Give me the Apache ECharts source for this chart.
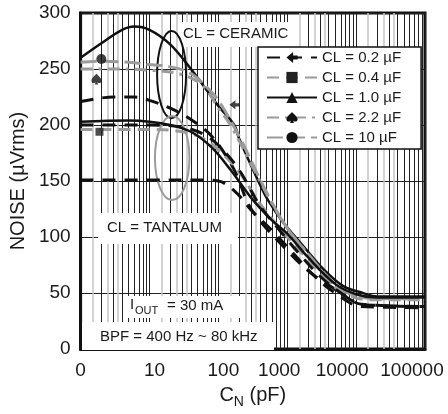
<!DOCTYPE html>
<html><head><meta charset="utf-8">
<script src="https://cdn.jsdelivr.net/npm/echarts@6/dist/echarts.min.js"></script>
<style>html,body{margin:0;padding:0;background:#fff}#c{width:448px;height:414px}</style>
</head><body><div id="c"></div>
<script>
// ---------- data ----------
const xTickLabels = ['0', '10', '100', '1000', '10000', '100000'];
const yMin = 0, yMax = 300, yStep = 50;
const legendNames = ['CL = 0.2 µF', 'CL = 0.4 µF', 'CL = 1.0 µF', 'CL = 2.2 µF', 'CL = 10 µF'];

// ceramic group
const cnCer1u = [1, 2, 4, 6, 10, 20, 40, 70, 100, 170, 200, 380, 525, 900, 1600, 3400, 6600, 12700, 20000, 100000];
const noiseCer1u = [260, 273, 285, 288, 285, 272, 250, 230, 217, 200, 188, 150, 133, 112, 94, 71, 56, 50, 47, 47];
const cnCer10u = [1, 2, 5, 10, 20, 40, 70, 100, 200, 500, 1000, 2000, 5000, 10000, 20000, 100000];
const noiseCer10u = [256, 257, 256, 254, 252, 246, 233, 222, 190, 140, 108, 85, 58, 48, 45, 45];
const cnCer22u = [1, 3, 10, 30, 60, 100, 150, 300, 600, 1000, 2000, 5000, 20000, 100000];
const noiseCer22u = [250, 250, 249, 245, 235, 215, 200, 165, 130, 108, 85, 56, 45, 45];
const cnCer02u = [1, 3, 6, 10, 20, 40, 80, 170, 300, 900, 2200, 4800, 10500, 20000, 100000];
const noiseCer02u = [221, 225, 225, 222, 215, 205, 190, 160, 125, 91, 68, 54, 41, 39, 38];
// tantalum group
const cnTan1u = [1, 5, 10, 20, 40, 80, 150, 300, 600, 1000, 2000, 5000, 10000, 20000, 100000];
const noiseTan1u = [203, 204, 203, 200, 194, 180, 160, 135, 115, 103, 82, 58, 49, 46, 46];
const cnTan02u = [1, 10, 30, 60, 100, 200, 400, 800, 1500, 3000, 6000, 12000, 100000];
const noiseTan02u = [200, 200, 198, 192, 182, 160, 128, 105, 85, 65, 50, 40, 38];
const cnTan04u = [1, 10, 30, 60, 100, 200, 400, 1000, 2000, 5000, 15000, 100000];
const noiseTan04u = [196, 196, 194, 188, 178, 158, 130, 100, 80, 55, 44, 44];
const cnTanLow = [1, 10, 50, 100, 180, 300, 600, 1200, 2500, 5000, 12000, 100000];
const noiseTanLow = [151, 151, 151, 150, 140, 124, 106, 86, 65, 50, 38, 37];

// single markers [C_N, noise]
const marker02u = [171, 218];
const marker04u = [1.88, 194];
const marker22u = [1.7, 241];
const marker10u = [2.0, 259];

// ellipse bounds in data units: [cnLow, cnHigh], [noiseLow, noiseHigh]
const ceramicEllipseCn = [12.9, 34], ceramicEllipseNoise = [206, 284];
const tantalumEllipseCn = [12, 38], tantalumEllipseNoise = [133, 208];

// ---------- styles ----------
const FONT = '"Liberation Sans", Arial, sans-serif';
const TXT = '#1a1a1a';
const GRAY = '#9b9b9b';
const arrowPath = 'path://M0,5 L6,0 L6,3.2 L10,3.2 L10,6.8 L6,6.8 L6,10 Z';
const spadePath = 'path://M5,0 C4,1.5 0,4 0,6.5 C0,8.6 2.3,9.4 4.2,7.8 L3.2,10 L6.8,10 L5.8,7.8 C7.7,9.4 10,8.6 10,6.5 C10,4 6,1.5 5,0 Z';
const styles = {
  'CL = 0.2 µF': {color: '#111', type: [13, 9], width: 3, symbol: arrowPath, size: [10, 9], sym: '#111'},
  'CL = 0.4 µF': {color: GRAY, type: [12, 7], width: 3, symbol: 'rect', size: 8, sym: '#222'},
  'CL = 1.0 µF': {color: '#111', type: 'solid', width: 2.5, symbol: 'triangle', size: 8, sym: '#111'},
  'CL = 2.2 µF': {color: GRAY, type: [12, 6, 3, 6], width: 3, symbol: spadePath, size: [10, 11], sym: '#111'},
  'CL = 10 µF': {color: GRAY, type: [16, 6], width: 3, symbol: 'circle', size: 10, sym: '#111'}
};

function pairs(xs, ys) { return xs.map((x, i) => [x, ys[i]]); }
function lineSeries(name, xs, ys) {
  const s = styles[name];
  return {
    name, type: 'line', z: 3, smooth: 0.35, showSymbol: false, symbol: s.symbol, symbolSize: s.size,
    itemStyle: {color: s.sym}, lineStyle: {color: s.color, width: s.width, type: s.type},
    data: pairs(xs, ys), silent: true
  };
}
function markerSeries(name, pt) {
  const s = styles[name];
  return {name, type: 'scatter', z: 4, symbol: s.symbol, symbolSize: s.size, itemStyle: {color: s.sym}, data: [pt], silent: true};
}

// grid lines (log minor lines derived from decade ticks)
const decades = [1, 10, 100, 1000, 10000];
const minorBlack = [], minorGray = [];
decades.forEach(d => {
  for (let k = 2; k <= 9; k++) minorBlack.push(d * k);
  [1.5, 2.5, 3.5].forEach(k => minorGray.push(d * k));
});

function gridLineSeries(values, color, width) {
  return {type: 'line', z: 1, data: [[1, 0]], symbol: 'none', lineStyle: {opacity: 0}, silent: true,
    markLine: {z: 1, silent: true, symbol: ['none', 'none'], label: {show: false}, animation: false,
      lineStyle: {color, width, type: 'solid'}, emphasis: {disabled: true},
      data: values.map(v => ({xAxis: v}))}};
}

const series = [
  gridLineSeries(minorGray, '#c4c4c4', 1.5),
  gridLineSeries(minorBlack, '#222', 1),
  lineSeries('CL = 0.2 µF', cnCer02u, noiseCer02u),
  lineSeries('CL = 0.4 µF', cnTan04u, noiseTan04u),
  lineSeries('CL = 1.0 µF', cnCer1u, noiseCer1u),
  lineSeries('CL = 2.2 µF', cnCer22u, noiseCer22u),
  lineSeries('CL = 10 µF', cnCer10u, noiseCer10u),
  lineSeries('CL = 1.0 µF', cnTan1u, noiseTan1u),
  lineSeries('CL = 0.2 µF', cnTan02u, noiseTan02u),
  lineSeries('CL = 0.2 µF', cnTanLow, noiseTanLow),
  markerSeries('CL = 0.2 µF', marker02u),
  markerSeries('CL = 0.4 µF', marker04u),
  markerSeries('CL = 2.2 µF', marker22u),
  markerSeries('CL = 10 µF', marker10u)
];

const xRich = {
  t0: {fontSize: 19, fontFamily: FONT, color: TXT},
  t1: {fontSize: 19, fontFamily: FONT, color: TXT, padding: [0, 0, 0, 10]},
  t2: {fontSize: 19, fontFamily: FONT, color: TXT, padding: [0, 0, 0, 10]},
  t3: {fontSize: 19, fontFamily: FONT, color: TXT, padding: [0, 16, 0, 0]},
  t4: {fontSize: 19, fontFamily: FONT, color: TXT, padding: [0, 28, 0, 0]},
  t5: {fontSize: 19, fontFamily: FONT, color: TXT, padding: [0, 26, 0, 0]}
};

const option = {
  animation: false,
  backgroundColor: '#fff',
  grid: {left: 78, right: 23, top: 13, bottom: 60, show: true, borderColor: '#111', borderWidth: 3, backgroundColor: 'transparent'},
  xAxis: {
    type: 'log', logBase: 10, min: 1, max: 100000, splitNumber: 5,
    name: '{a|C}{b|N}{a| (pF)}', nameLocation: 'middle', nameGap: 32,
    nameTextStyle: {rich: {a: {fontSize: 20, fontFamily: FONT, color: TXT, verticalAlign: 'top', lineHeight: 24},
      b: {fontSize: 14, fontFamily: FONT, color: TXT, verticalAlign: 'bottom', lineHeight: 24, padding: [10, 0, 0, 0]}}},
    axisLine: {show: true, lineStyle: {color: '#111', width: 3}},
    axisTick: {show: false},
    axisLabel: {interval: 0, margin: 12, rich: xRich,
      formatter: v => { const i = Math.round(Math.log10(v)); return '{t' + i + '|' + xTickLabels[i] + '}'; }},
    splitLine: {show: true, lineStyle: {color: '#222', width: 1}},
    minorTick: {show: false}, minorSplitLine: {show: false}
  },
  yAxis: {
    type: 'value', min: yMin, max: yMax, interval: yStep,
    name: 'NOISE (µVrms)', nameLocation: 'middle', nameGap: 52,
    nameTextStyle: {fontSize: 20, fontFamily: FONT, color: TXT},
    axisLine: {show: true, lineStyle: {color: '#111', width: 3}},
    axisTick: {show: false},
    axisLabel: {fontSize: 19, fontFamily: FONT, color: TXT, margin: 10},
    splitLine: {show: true, lineStyle: {color: '#222', width: 1}}
  },
  legend: {
    data: legendNames, orient: 'vertical', left: 258, top: 47,
    backgroundColor: '#fff', borderColor: '#111', borderWidth: 1.5, borderRadius: 0,
    padding: [3, 20, 4, 8], itemGap: 5, itemWidth: 50, itemHeight: 14, itemTextGap: 6,
    textStyle: {fontSize: 15, fontFamily: FONT, color: TXT}, selectedMode: false, z: 6
  },
  series
};

const chart = echarts.init(document.getElementById('c'), null, {renderer: 'canvas'});
chart.setOption(option);

function ellipseFrom(cn, noise) {
  const p1 = chart.convertToPixel({gridIndex: 0}, [cn[0], noise[0]]);
  const p2 = chart.convertToPixel({gridIndex: 0}, [cn[1], noise[1]]);
  return {cx: (p1[0] + p2[0]) / 2, cy: (p1[1] + p2[1]) / 2, rx: Math.abs(p2[0] - p1[0]) / 2, ry: Math.abs(p2[1] - p1[1]) / 2};
}
function box(x, y, w, h) { return {type: 'rect', z: 2, silent: true, shape: {x, y, width: w, height: h}, style: {fill: '#fff'}}; }
function txt(x, y, t, size) { return {type: 'text', z: 2, z2: 10, silent: true, style: {x, y, text: t, font: size + 'px ' + FONT, fill: TXT, textVerticalAlign: 'middle'}}; }

chart.setOption({
  graphic: [
    box(178, 22, 120, 25), txt(183, 34, 'CL = CERAMIC', 15),
    box(98, 213, 140, 31), txt(107, 228, 'CL = TANTALUM', 15),
    box(123, 296, 118, 22), txt(130, 305, 'I', 15), txt(135, 311, 'OUT', 11), txt(167, 306, '= 30 mA', 15),
    box(82, 322, 192, 28), txt(100, 337, 'BPF = 400 Hz ~ 80 kHz', 15),
    {type: 'ellipse', z: 3, silent: true, shape: ellipseFrom(ceramicEllipseCn, ceramicEllipseNoise), style: {fill: 'none', stroke: '#111', lineWidth: 2}},
    {type: 'ellipse', z: 3, silent: true, shape: ellipseFrom(tantalumEllipseCn, tantalumEllipseNoise), style: {fill: 'none', stroke: GRAY, lineWidth: 2}}
  ]
});
</script>
</body></html>
